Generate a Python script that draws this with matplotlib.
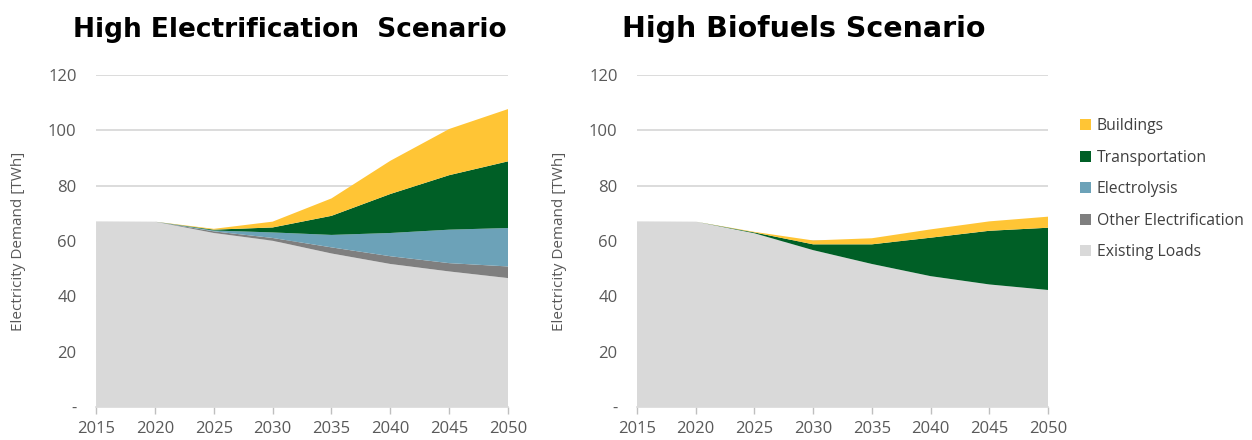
import matplotlib.pyplot as plt
from matplotlib.patches import Patch

years = [2015, 2020, 2025, 2030, 2035, 2040, 2045, 2050]
layer_names = ['Existing Loads', 'Other Electrification', 'Electrolysis', 'Transportation', 'Buildings']
layer_colors = ['#d9d9d9', '#7f7f7f', '#6ca2b8', '#005f26', '#ffc535']

# high electrification scenario (TWh)
elec_existing = [67.1, 67.0, 62.9, 60.1, 55.5, 51.7, 49.0, 46.6]
elec_other = [0.0, 0.0, 0.6, 1.0, 2.2, 2.8, 3.0, 4.2]
elec_electrolysis = [0.0, 0.0, 0.3, 2.0, 4.5, 8.4, 12.1, 13.9]
elec_transport = [0.0, 0.0, 0.3, 1.8, 6.9, 14.1, 19.7, 24.1]
elec_buildings = [0.0, 0.0, 0.3, 2.1, 6.3, 12.0, 16.7, 18.9]

# high biofuels scenario (TWh)
bio_existing = [67.1, 67.0, 62.8, 56.7, 51.7, 47.3, 44.3, 42.3]
bio_other = [0, 0, 0, 0, 0, 0, 0, 0]
bio_electrolysis = [0, 0, 0, 0, 0, 0, 0, 0]
bio_transport = [0.0, 0.0, 0.3, 2.1, 7.1, 13.9, 19.4, 22.5]
bio_buildings = [0.0, 0.0, 0.2, 1.4, 2.2, 3.0, 3.4, 4.0]

titles = ['High Electrification  Scenario', 'High Biofuels Scenario']
yticks = [0, 20, 40, 60, 80, 100, 120]
ytick_labels = ['-', '20', '40', '60', '80', '100', '120']

txt = '#595959'
plt.rcParams['font.family'] = ['Open Sans', 'DejaVu Sans']

fig = plt.figure(figsize=(12.52, 4.40), dpi=100)
ax1 = fig.add_axes([0.0767, 0.075, 0.3291, 0.7545])
ax2 = fig.add_axes([0.5088, 0.075, 0.3283, 0.7545])

data = [
    [elec_existing, elec_other, elec_electrolysis, elec_transport, elec_buildings],
    [bio_existing, bio_other, bio_electrolysis, bio_transport, bio_buildings],
]

for ax, d in zip([ax1, ax2], data):
    ax.stackplot(years, *d, colors=layer_colors, linewidth=0)
    ax.set_xlim(2015, 2050)
    ax.set_ylim(0, 120)
    ax.set_axisbelow(True)
    ax.yaxis.grid(True, color='#d9d9d9', linewidth=1.3)
    ax.set_yticks(yticks)
    ax.set_yticklabels(ytick_labels)
    ax.set_xticks(years)
    ax.tick_params(axis='y', length=0, pad=14, labelsize=12, labelcolor=txt)
    ax.tick_params(axis='x', length=5, color='#bfbfbf', width=1, pad=5, labelsize=12, labelcolor=txt)
    for s in ['top', 'right', 'left']:
        ax.spines[s].set_visible(False)
    ax.spines['bottom'].set_color('#d9d9d9')
    ax.spines['bottom'].set_linewidth(1.2)
    ax.set_ylabel('Electricity Demand [TWh]', color=txt, fontsize=11, labelpad=16)

fig.text(0.0583, 0.915, titles[0], fontsize=19, fontweight='bold', family='DejaVu Sans', va='baseline')
fig.text(0.4968, 0.915, titles[1], fontsize=20.5, fontweight='bold', family='DejaVu Sans', va='baseline')

handles = [Patch(facecolor=c, edgecolor='none') for c in layer_colors[::-1]]
fig.legend(handles, layer_names[::-1], loc='upper left', bbox_to_anchor=(0.851, 0.763),
           frameon=False, fontsize=11.3, labelcolor='#404040', handlelength=0.7, handleheight=0.7,
           handletextpad=0.4, labelspacing=0.98)

fig.savefig('out.png', dpi=100)
